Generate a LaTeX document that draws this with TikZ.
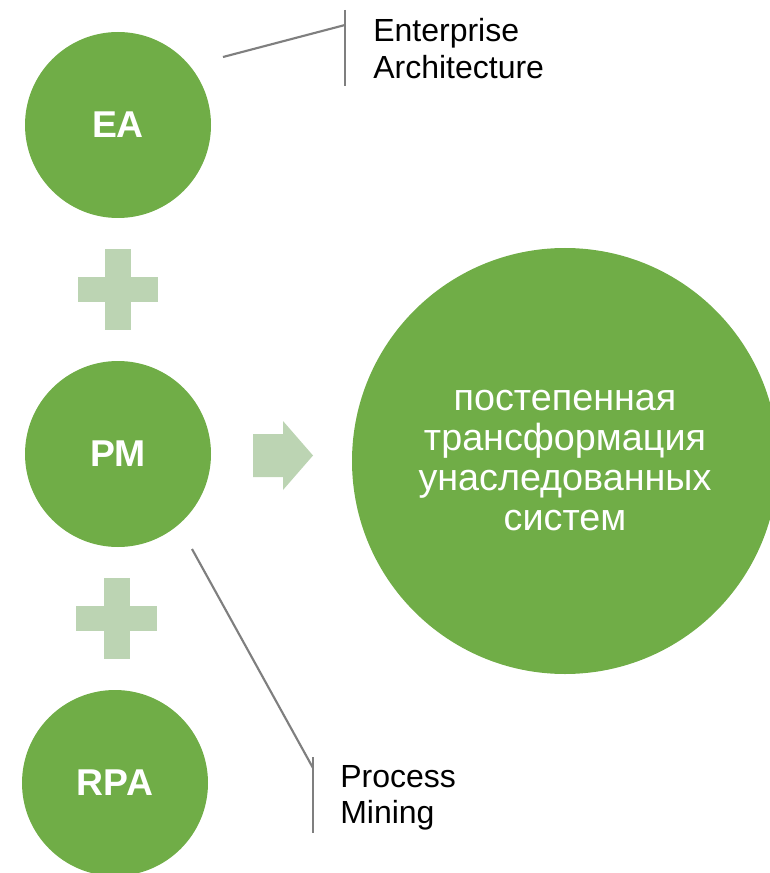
\documentclass[tikz,border=0pt]{standalone}
\usepackage{fontspec}
\setmainfont{Liberation Sans}
\usetikzlibrary{shapes.arrows}
\definecolor{cgreen}{HTML}{70AD47}
\definecolor{lgreen}{HTML}{BCD4B3}
\definecolor{lgrey}{HTML}{7F7F7F}
\begin{document}
\begin{tikzpicture}[x=0.75pt,y=-0.75pt,
  smallc/.style={circle,fill=cgreen,inner sep=0pt,minimum size=139.5pt,text=white,font=\fontsize{28}{30}\selectfont\bfseries},
  bigc/.style={circle,fill=cgreen,inner sep=0pt,minimum size=319.5pt,text=white,align=center,font=\fontsize{28.3}{30}\selectfont},
  plusbar/.style={fill=lgreen},
  callout/.style={draw=lgrey,line width=1.6pt},
  lbl/.style={anchor=north west,inner sep=0pt,align=left,font=\fontsize{24}{27.5}\selectfont}]
\useasboundingbox (0,0) rectangle (769,873);
\node[smallc] (ea) at (118,125) {EA};
\node[smallc] (pm) at (118,454) {PM};
\node[smallc] (rpa) at (115,783) {RPA};
\node[bigc] (big) at (565,461) {постепенная\\трансформация\\унаследованных\\систем};
% plus signs
\fill[plusbar] (105,249) rectangle (131,330);
\fill[plusbar] (78,277) rectangle (158,302);
\fill[plusbar] (104,578) rectangle (130,659);
\fill[plusbar] (76,606) rectangle (157,631);
% arrow
\fill[lgreen] (253,434) -- (283,434) -- (283,421) -- (313,455.5) -- (283,490) -- (283,477) -- (253,477) -- cycle;
% callouts
\coordinate (ea1) at (223,57);
\coordinate (ea2) at (345,25);
\coordinate (eat) at (345,10);
\coordinate (eab) at (345,86);
\draw[callout] (ea1) -- (ea2);
\draw[callout] (eat) -- (eab);
\node[lbl] (eal) at (373,18) {Enterprise\\Architecture};
\coordinate (pm1) at (192,549);
\coordinate (pm2) at (313,768);
\coordinate (pmt) at (313,757);
\coordinate (pmb) at (313,833);
\draw[callout] (pm1) -- (pm2);
\draw[callout] (pmt) -- (pmb);
\node[lbl] (pml) at (340,765) {Process\\Mining};
\end{tikzpicture}
\end{document}
